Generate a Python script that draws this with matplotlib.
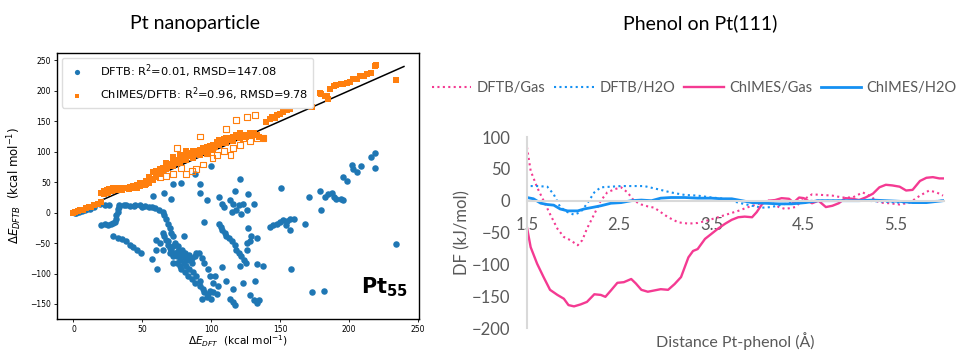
import matplotlib.pyplot as plt

# ---------------- left panel: Pt55 parity data (kcal/mol) ----------------
dftb_pts = [
    (1, 0), (2, -1), (4, 1), (6, 3), (8, 5), (10, 6), (12, 6), (15, 10),
    (19, 15), (23, 13), (26, 13), (33, 12), (37, 12), (38, 13), (41, 11), (44, 11), (45, 13),
    (48, 12), (50, 10), (52, 11), (55, 9), (57, 10), (59, 8), (62, 5), (65, 1), (66, -4),
    (67, -11), (69, -18), (70, -26), (71, -34), (72, -39),
    (30, -15), (31, -10), (31, -4), (32, 1), (32, 6), (33, 10),
    (20, -20), (23, -19), (25, -20), (27, -18), (29, -17),
    (29, -39), (32, -41), (35, -44), (38, -47), (41, -53), (43, -56), (46, -61), (49, -66),
    (57, -76), (61, -93),
    (65, -34), (66, -39), (67, -45), (69, -53), (70, -58), (71, -61), (72, -55), (74, -66),
    (75, -72), (76, -63), (77, -77), (78, -69), (80, -82), (81, -74), (82, -88), (83, -77),
    (84, -93), (86, -82), (87, -98), (88, -72), (89, -104), (91, -66), (92, -112), (72, -72),
    (75, -82), (77, -88), (78, -93), (81, -98), (83, -104), (86, -109), (88, -115),
    (69, -47), (74, -50), (76, -55), (79, -61), (81, -66), (84, -69), (86, -74), (70, -66),
    (72, -82), (65, -61), (63, -50), (60, -45),
    (92, -120), (94, -125), (95, -131), (98, -133), (99, -128), (101, -131), (104, -133),
    (97, -139), (93, -141), (100, -141),
    (89, -66), (93, -74), (95, -82), (98, -93), (99, -104), (101, -115), (105, -120),
    (58, 28), (66, 33), (71, 23), (72, 47), (78, 49), (88, 63), (92, 47), (92, 33), (97, 20),
    (95, -15), (100, 76), (60, -61), (80, -39),
    (106, 25), (108, 15), (109, 9), (114, 20), (116, 15), (115, 1), (117, 36), (118, 4),
    (120, 12), (121, 55), (122, -2), (123, 15), (127, 31), (126, 4), (131, 15),
    (106, -18), (107, -23), (108, -28), (110, -34), (111, -38), (113, -42), (115, -47),
    (117, -53), (118, -61), (120, -66), (122, -72), (124, -77), (125, -82), (121, -87),
    (126, -61), (126, -50), (128, -47), (129, -39), (133, -42), (127, -26),
    (111, -112), (116, -125), (114, -141), (116, -147), (117, -152), (128, -136), (131, -144),
    (133, -149), (135, -144), (132, -112), (133, -85), (138, -88), (123, -115), (108, -90),
    (103, -104),
    (143, -23), (145, -20), (148, -18), (150, -15), (152, -12), (155, -13), (157, -10),
    (160, -10), (157, -28), (154, -20), (151, 41), (158, -93), (168, -18), (171, 25),
    (179, 36), (180, 4), (173, -131), (182, -128), (183, 25), (185, 31), (188, 33), (189, 25),
    (191, 23), (194, 23), (196, 21), (196, 58), (199, 52), (202, 79), (203, 71), (206, 66),
    (209, 76), (216, 92), (219, 98), (219, 74), (234, -52),
]

chimes_pts = [
    (0, 0), (1, 1), (3, 2), (5, 4), (7, 5), (9, 7), (11, 9), (13, 10), (15, 13), (18, 15), (20, 18),
    (20, 33), (22, 35), (24, 37), (26, 39), (29, 40), (31, 41), (33, 41), (36, 40), (38, 41),
    (41, 42), (43, 44), (46, 46), (48, 48), (50, 49), (53, 52), (56, 55), (58, 53),
    (22, 30), (25, 32), (28, 35), (32, 37), (35, 38), (40, 39), (44, 41), (48, 44), (52, 45),
    (55, 48),
    (46, 41), (50, 47), (55, 58), (58, 66), (60, 68), (63, 71), (65, 74), (67, 76), (70, 80),
    (72, 84), (75, 87), (77, 90), (80, 94), (82, 95), (84, 98), (87, 101), (89, 102), (92, 103),
    (94, 106), (97, 107), (99, 110), (101, 111), (104, 116), (106, 119), (109, 121), (111, 122),
    (114, 123), (116, 125), (118, 127), (121, 130), (123, 127), (126, 128), (128, 130),
    (131, 131), (133, 127), (135, 125), (138, 122),
    (67, 71), (72, 76), (77, 82), (82, 87), (87, 90), (92, 95), (97, 98), (101, 103), (106, 111),
    (111, 114), (116, 117), (121, 122), (67, 82), (72, 92), (77, 95), (82, 101), (63, 63),
    (60, 58), (53, 47),
    (62, 65), (65, 68), (68, 73), (71, 78), (74, 81), (76, 86), (79, 88), (81, 91), (83, 93),
    (85, 95), (88, 97), (90, 99), (93, 100), (95, 102), (98, 104), (100, 106), (103, 108),
    (105, 112), (108, 115), (110, 117), (113, 119), (115, 121), (118, 124), (120, 126),
    (123, 125), (125, 124), (128, 126), (130, 128),
    (140, 149), (143, 154), (144, 157), (146, 155), (148, 160), (150, 162), (152, 165), (155, 168),
    (156, 173), (157, 170), (160, 176), (167, 184), (173, 173), (179, 197), (180, 195),
    (183, 191), (184, 192), (185, 187), (186, 203), (189, 208), (191, 209), (194, 211),
    (196, 212), (199, 213), (201, 215), (203, 219), (206, 220), (208, 224), (211, 225),
    (213, 227), (216, 230), (219, 240), (220, 243), (234, 218),
]

chimes_open_pts = [
    (75, 106), (92, 125), (111, 138), (118, 152), (126, 157), (132, 161), (97, 98), (104, 95),
    (114, 95), (123, 122), (138, 122), (78, 74), (82, 63), (86, 68), (89, 71), (94, 79),
    (101, 90), (109, 101), (116, 106), (121, 111), (128, 117), (133, 122), (63, 58), (67, 60),
    (72, 63),
]

# ---------------- right panel: phenol on Pt(111), DF (kJ/mol) ----------------
chimes_gas_x = [1.5, 1.54, 1.61, 1.68, 1.75, 1.83, 1.9, 1.95, 2.01, 2.08, 2.15, 2.23, 2.3, 2.35,
                2.41, 2.48, 2.55, 2.63, 2.68, 2.74, 2.81, 2.88, 2.95, 3.03, 3.1, 3.17, 3.25, 3.3,
                3.35, 3.43, 3.5, 3.57, 3.65, 3.72, 3.79, 3.86, 3.94, 3.99, 4.05, 4.12, 4.19, 4.26,
                4.34, 4.39, 4.45, 4.5, 4.59, 4.66, 4.74, 4.81, 4.88, 4.95, 5.03, 5.1, 5.17, 5.25,
                5.32, 5.39, 5.46, 5.54, 5.61, 5.68, 5.76, 5.83, 5.9, 5.97, 6.01]
chimes_gas_y = [-42, -73, -99, -120, -140, -148, -154, -164, -166, -163, -159, -147, -148, -151,
                -141, -129, -128, -123, -130, -140, -143, -141, -139, -140, -131, -120, -89, -79,
                -76, -60, -52, -44, -36, -30, -26, -25, -26, -18, -5, 0, 1, 4,
                3, -3, 5, 4, -4, 0, -10, -8, -4, 4, 3, 1, 5, 11,
                21, 25, 24, 22, 16, 17, 31, 36, 37, 35, 35]

dftb_gas_x = [1.5, 1.54, 1.61, 1.68, 1.75, 1.83, 1.9, 1.97, 2.05, 2.1, 2.15, 2.23, 2.3, 2.37,
              2.45, 2.52, 2.59, 2.66, 2.74, 2.81, 2.88, 2.95, 3.03, 3.14, 3.25, 3.35, 3.46, 3.57,
              3.68, 3.79, 3.9, 4.01, 4.12, 4.23, 4.3, 4.41, 4.48, 4.59, 4.7, 4.81, 4.92, 5.03,
              5.14, 5.21, 5.32, 5.43, 5.54, 5.65, 5.76, 5.86, 5.94, 6.01]
dftb_gas_y = [84, 47, 21, 0, -21, -44, -57, -62, -70, -62, -44, -21, 0, 13,
              18, 21, 13, 0, -6, -9, -11, -18, -26, -34, -36, -35, -31, -26,
              -21, -16, -10, -5, 0, -10, -13, -10, 0, 10, 9, 8, 5, 5,
              13, 8, -3, -4, -6, -3, 8, 16, 13, 8]

dftb_h2o_x = [1.54, 1.61, 1.72, 1.79, 1.86, 1.94, 2.01, 2.08, 2.15, 2.23, 2.3, 2.41, 2.52, 2.63,
              2.77, 2.92, 3.06, 3.21, 3.35, 3.5, 3.65, 3.79, 3.94, 4.05, 4.15, 4.3, 4.45, 4.63,
              4.81, 5.17, 5.54, 6.01]
dftb_h2o_y = [23, 23, 22, 10, -10, -18, -22, -18, -5, 13, 21, 22, 23, 23,
              23, 18, 13, 9, 8, 5, 3, -3, -8, -11, -10, -5, -1, 0,
              0, 0, -3, 0]

chimes_h2o_x = [1.5, 1.57, 1.65, 1.72, 1.79, 1.86, 1.94, 2.05, 2.12, 2.23, 2.3, 2.41, 2.52, 2.63,
                2.74, 2.85, 2.95, 3.06, 3.21, 3.35, 3.5, 3.61, 3.72, 3.83, 3.94, 4.08, 4.23, 4.37,
                4.52, 4.66, 4.81, 4.95, 5.1, 5.25, 5.39, 5.54, 5.68, 5.83, 6.01]
chimes_h2o_y = [5, 3, -4, -6, -7, -13, -16, -16, -13, -10, -8, -4, -3, 0,
                1, 0, 4, 5, 5, 4, 4, 3, 3, 0, -3, -4, -5, -5,
                -3, 0, 0, 0, 0, 1, 0, -1, -3, -3, 0]

x_ticks = [1.5, 2.5, 3.5, 4.5, 5.5]
y_ticks = [-200, -150, -100, -50, 0, 50, 100]

pink = "#F43A92"
blue = "#1590F2"
grey = "#595959"

fig = plt.figure(figsize=(9.59, 3.54), dpi=100)

# left axes
ax1 = fig.add_axes([0.0594, 0.100, 0.3776, 0.750])
bx, by = zip(*dftb_pts)
ox, oy = zip(*chimes_pts)
hx, hy = zip(*chimes_open_pts)
ax1.plot([0, 240], [0, 240], color="black", lw=1.1, zorder=1)
ax1.scatter(bx, by, s=22, color="#1f77b4", marker="o", lw=0, zorder=2,
            label="DFTB: R$^2$=0.01, RMSD=147.08")
ax1.scatter(hx, hy, s=18, facecolor="none", edgecolor="#ff7f0e", marker="s", lw=0.8, zorder=3)
ax1.scatter(ox, oy, s=20, color="#ff7f0e", marker="s", lw=0, zorder=3,
            label="ChIMES/DFTB: R$^2$=0.96, RMSD=9.78")
ax1.set_xlim(-12, 251)
ax1.set_ylim(-174, 262)
ax1.set_xticks([0, 50, 100, 150, 200, 250])
ax1.set_yticks([-150, -100, -50, 0, 50, 100, 150, 200, 250])
ax1.tick_params(labelsize=5.5, length=2.5, width=0.6, pad=2)
for s in ax1.spines.values():
    s.set_linewidth(1.0)
ax1.set_ylabel(r"$\Delta E_{DFTB}$  (kcal mol$^{-1}$)", fontsize=8.5, labelpad=4)
ax1.set_xlabel(r"$\Delta E_{DFT}$  (kcal mol$^{-1}$)", fontsize=7.6, labelpad=0)
ax1.xaxis.set_label_coords(0.5, -0.058)
ax1.legend(loc="upper left", fontsize=8.2, markerscale=0.8, handletextpad=1.0,
           borderaxespad=0.4, framealpha=1, edgecolor="#dddddd")
ax1.text(209, -133, r"$\mathbf{Pt}_{\mathbf{55}}$", fontsize=15)

# right axes
ax2 = fig.add_axes([0.5495, 0.0734, 0.4348, 0.5395])
ax2.plot(dftb_gas_x, dftb_gas_y, color=pink, lw=1.5, ls=(0, (1, 1.6)), label="DFTB/Gas")
ax2.plot(dftb_h2o_x, dftb_h2o_y, color=blue, lw=1.5, ls=(0, (1, 1.6)), label="DFTB/H2O")
ax2.plot(chimes_gas_x, chimes_gas_y, color=pink, lw=1.7, label="ChIMES/Gas")
ax2.plot(chimes_h2o_x, chimes_h2o_y, color=blue, lw=2.0, label="ChIMES/H2O")
ax2.set_xlim(1.5, 6.02)
ax2.set_ylim(-200, 100)
ax2.set_xticks(x_ticks)
ax2.set_xticklabels([str(v) for v in x_ticks])
ax2.set_yticks(y_ticks)
ax2.spines["top"].set_visible(False)
ax2.spines["right"].set_visible(False)
ax2.spines["bottom"].set_position(("data", 0))
ax2.spines["bottom"].set_color("#D9D9D9")
ax2.spines["left"].set_color("#D9D9D9")
ax2.spines["bottom"].set_linewidth(1.5)
ax2.spines["left"].set_linewidth(1.5)
ax2.tick_params(length=0, labelsize=12, labelcolor=grey)
ax2.tick_params(axis="x", pad=12)
ax2.tick_params(axis="y", pad=12)
for lab in ax2.get_xticklabels() + ax2.get_yticklabels():
    lab.set_family("Lato")
ax2.set_ylabel("DF (kJ/mol)", fontsize=12, color=grey, family="Lato", labelpad=1)
ax2.set_xlabel("Distance Pt-phenol (Å)", fontsize=11.5, color=grey, family="Lato")
ax2.xaxis.set_label_coords(0.5, -0.02)
fig.legend(*ax2.get_legend_handles_labels(), loc="center", bbox_to_anchor=(0.724, 0.751),
           ncol=4, frameon=False, handlelength=2.7, handletextpad=0.4, columnspacing=0.6,
           prop={"family": "Lato", "size": 10.5}, labelcolor=grey)

fig.text(0.203, 0.935, "Pt nanoparticle", ha="center", va="center", fontsize=14, family="Lato")
fig.text(0.730, 0.935, "Phenol on Pt(111)", ha="center", va="center", fontsize=14, family="Lato")

fig.savefig("out.png", dpi=100)
